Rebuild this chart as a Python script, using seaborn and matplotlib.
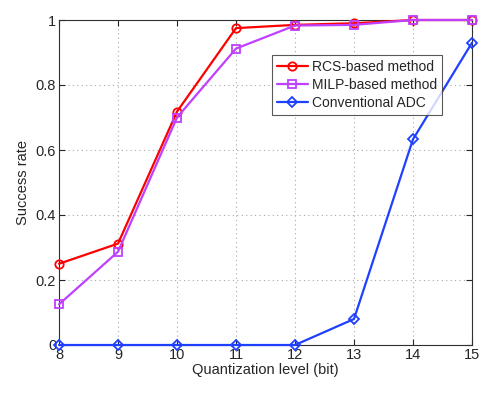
import numpy as np
import pandas as pd
import matplotlib
matplotlib.use("Agg")
import matplotlib.pyplot as plt
import seaborn as sns

levels = [8, 9, 10, 11, 12, 13, 14, 15]
rcs = [0.25, 0.312, 0.718, 0.975, 0.985, 0.99, 1.0, 1.0]
milp = [0.125, 0.287, 0.70, 0.912, 0.983, 0.985, 1.0, 1.0]
adc = [0.0, 0.0, 0.0, 0.0, 0.0, 0.08, 0.633, 0.93]
names = ["RCS-based method", "MILP-based method", "Conventional ADC"]

df = pd.DataFrame({
    "level": levels * 3,
    "rate": rcs + milp + adc,
    "method": [names[0]] * 8 + [names[1]] * 8 + [names[2]] * 8,
})

sns.set_style("ticks")
plt.rcParams["font.family"] = ["Liberation Sans", "DejaVu Sans"]
plt.rcParams["font.size"] = 10.5

fig = plt.figure(figsize=(4.98, 3.99), dpi=100)
ax = fig.add_axes([59 / 498, 1 - 345 / 399, 413 / 498, 325 / 399])

palette = {names[0]: "#ff0000", names[1]: "#bf40ff", names[2]: "#2040ff"}
markers = {names[0]: "o", names[1]: "s", names[2]: "D"}
sns.lineplot(data=df, x="level", y="rate", hue="method", style="method",
             palette=palette, markers=markers, dashes=False, ax=ax,
             linewidth=1.6, markersize=6, markerfacecolor="none",
             markeredgewidth=1.3)
for line in ax.lines:
    line.set_markerfacecolor("none")
    line.set_markeredgecolor(line.get_color())
    line.set_clip_on(False)
    line.set_zorder(5)
    if line.get_marker() == "D":
        line.set_markersize(5)

ax.set_xlim(8, 15)
ax.set_ylim(0, 1)
ax.set_xticks(levels)
ax.set_yticks([0, 0.2, 0.4, 0.6, 0.8, 1])
ax.set_yticklabels(["0", "0.2", "0.4", "0.6", "0.8", "1"])
ax.grid(True, linestyle=(0, (1, 3)), color="#a8a8a8", linewidth=0.8)
ax.tick_params(direction="in", length=4, top=True, right=True,
               labelsize=10.5, pad=2)
for s in ax.spines.values():
    s.set_color("#303030")
    s.set_linewidth(0.8)
ax.set_xlabel("Quantization level (bit)", fontsize=10.5, labelpad=1)
ax.set_ylabel("Success rate", fontsize=10.5, labelpad=4)

leg = ax.legend(loc="upper left", bbox_to_anchor=(0.516, 0.892),
                fontsize=10, frameon=True, fancybox=False,
                edgecolor="#303030", borderaxespad=0, handlelength=2.2,
                handletextpad=0.3, borderpad=0.35, labelspacing=0.3)
leg.get_frame().set_linewidth(0.8)
leg.set_zorder(10)

fig.savefig("out.png", dpi=100)
